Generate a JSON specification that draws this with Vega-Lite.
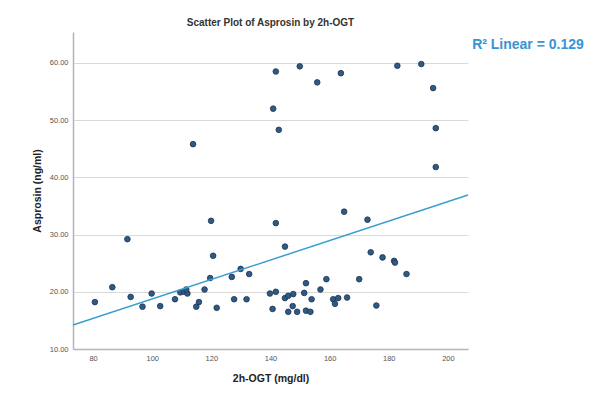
{
  "$schema": "https://vega.github.io/schema/vega-lite/v6.json",
  "width": 395,
  "height": 317,
  "autosize": "none",
  "padding": {"left": 73, "top": 32, "right": 127, "bottom": 47},
  "background": "white",
  "config": {
    "font": "Liberation Sans",
    "view": {"stroke": null},
    "axis": {
      "labelFont": "Liberation Sans",
      "titleFont": "Liberation Sans",
      "labelColor": "#555555",
      "labelFontSize": 7.5,
      "titleColor": "#222222",
      "titleFontSize": 10.5,
      "titleFontWeight": "bold",
      "ticks": false,
      "domainColor": "#b5b5b5",
      "domainWidth": 1.5,
      "gridColor": "#d9d9d9",
      "gridWidth": 1
    }
  },
  "title": {
    "text": "Scatter Plot of Asprosin by 2h-OGT",
    "fontSize": 10,
    "fontWeight": "bold",
    "color": "#333333",
    "anchor": "middle",
    "offset": 4
  },
  "datasets": {
    "points": [
      {"ogt": 80.6, "asprosin": 18.2},
      {"ogt": 86.5, "asprosin": 20.8},
      {"ogt": 91.6, "asprosin": 29.2},
      {"ogt": 92.7, "asprosin": 19.1},
      {"ogt": 96.7, "asprosin": 17.4},
      {"ogt": 99.8, "asprosin": 19.7},
      {"ogt": 102.7, "asprosin": 17.5},
      {"ogt": 107.7, "asprosin": 18.7},
      {"ogt": 109.5, "asprosin": 19.9},
      {"ogt": 110.7, "asprosin": 20.0},
      {"ogt": 111.9, "asprosin": 19.7},
      {"ogt": 111.5, "asprosin": 20.4},
      {"ogt": 113.8, "asprosin": 45.8},
      {"ogt": 114.9, "asprosin": 17.4},
      {"ogt": 115.8, "asprosin": 18.2},
      {"ogt": 117.7, "asprosin": 20.4},
      {"ogt": 119.6, "asprosin": 22.4},
      {"ogt": 119.9, "asprosin": 32.4},
      {"ogt": 120.6, "asprosin": 26.3},
      {"ogt": 121.8, "asprosin": 17.2},
      {"ogt": 126.9, "asprosin": 22.6},
      {"ogt": 127.7, "asprosin": 18.7},
      {"ogt": 129.9, "asprosin": 24.0},
      {"ogt": 131.9, "asprosin": 18.7},
      {"ogt": 132.8, "asprosin": 23.1},
      {"ogt": 139.8, "asprosin": 19.7},
      {"ogt": 140.7, "asprosin": 17.0},
      {"ogt": 140.9, "asprosin": 52.0},
      {"ogt": 141.8, "asprosin": 58.5},
      {"ogt": 141.8, "asprosin": 32.0},
      {"ogt": 141.8, "asprosin": 20.0},
      {"ogt": 142.8, "asprosin": 48.3},
      {"ogt": 144.9, "asprosin": 27.9},
      {"ogt": 144.9, "asprosin": 18.9},
      {"ogt": 146.0, "asprosin": 19.3},
      {"ogt": 146.0, "asprosin": 16.5},
      {"ogt": 147.5, "asprosin": 17.5},
      {"ogt": 147.7, "asprosin": 19.6},
      {"ogt": 149.0, "asprosin": 16.5},
      {"ogt": 149.9, "asprosin": 59.4},
      {"ogt": 151.4, "asprosin": 19.8},
      {"ogt": 152.0, "asprosin": 21.5},
      {"ogt": 152.0, "asprosin": 16.7},
      {"ogt": 153.5, "asprosin": 16.5},
      {"ogt": 153.9, "asprosin": 18.7},
      {"ogt": 155.8, "asprosin": 56.6},
      {"ogt": 156.9, "asprosin": 20.4},
      {"ogt": 158.9, "asprosin": 22.2},
      {"ogt": 161.2, "asprosin": 18.7},
      {"ogt": 161.8, "asprosin": 17.9},
      {"ogt": 162.9, "asprosin": 18.9},
      {"ogt": 163.8, "asprosin": 58.2},
      {"ogt": 164.9, "asprosin": 34.0},
      {"ogt": 165.9, "asprosin": 19.0},
      {"ogt": 170.0, "asprosin": 22.2},
      {"ogt": 172.8, "asprosin": 32.6},
      {"ogt": 173.9, "asprosin": 26.9},
      {"ogt": 175.8, "asprosin": 17.6},
      {"ogt": 177.9, "asprosin": 26.0},
      {"ogt": 181.8, "asprosin": 25.4},
      {"ogt": 182.1, "asprosin": 25.1},
      {"ogt": 182.9, "asprosin": 59.5},
      {"ogt": 186.0, "asprosin": 23.1},
      {"ogt": 191.0, "asprosin": 59.8},
      {"ogt": 195.0, "asprosin": 55.6},
      {"ogt": 195.9, "asprosin": 48.6},
      {"ogt": 195.9, "asprosin": 41.8}
    ],
    "fit": [
      {"ogt": 73.2, "asprosin": 14.2},
      {"ogt": 206.8, "asprosin": 36.9}
    ]
  },
  "layer": [
    {
      "data": {"name": "points"},
      "mark": {"type": "point", "filled": true, "size": 32, "fill": "#2e5a85", "stroke": "#1e3550", "strokeWidth": 0.8, "opacity": 1},
      "encoding": {
        "x": {
          "field": "ogt", "type": "quantitative",
          "scale": {"domain": [73.2, 206.8], "nice": false, "zero": false},
          "axis": {"title": "2h-OGT (mg/dl)", "values": [80, 100, 120, 140, 160, 180, 200], "grid": false, "labelPadding": 5, "titlePadding": 12}
        },
        "y": {
          "field": "asprosin", "type": "quantitative",
          "scale": {"domain": [10, 65.4], "nice": false, "zero": false},
          "axis": {"title": "Asprosin (ng/ml)", "values": [10, 20, 30, 40, 50, 60], "format": ".2f", "grid": true, "labelPadding": 5, "titlePadding": 7}
        }
      }
    },
    {
      "data": {"name": "fit"},
      "mark": {"type": "line", "color": "#3a9fcf", "strokeWidth": 1.5},
      "encoding": {
        "x": {"field": "ogt", "type": "quantitative"},
        "y": {"field": "asprosin", "type": "quantitative"}
      }
    },
    {
      "data": {"values": [{"label": "R² Linear = 0.129"}]},
      "mark": {"type": "text", "align": "left", "baseline": "middle", "fontSize": 14, "fontWeight": "bold", "color": "#3a93d2", "font": "Liberation Sans"},
      "encoding": {
        "x": {"datum": 208.2, "type": "quantitative"},
        "y": {"datum": 63.1, "type": "quantitative"},
        "text": {"field": "label", "type": "nominal"}
      }
    }
  ]
}
